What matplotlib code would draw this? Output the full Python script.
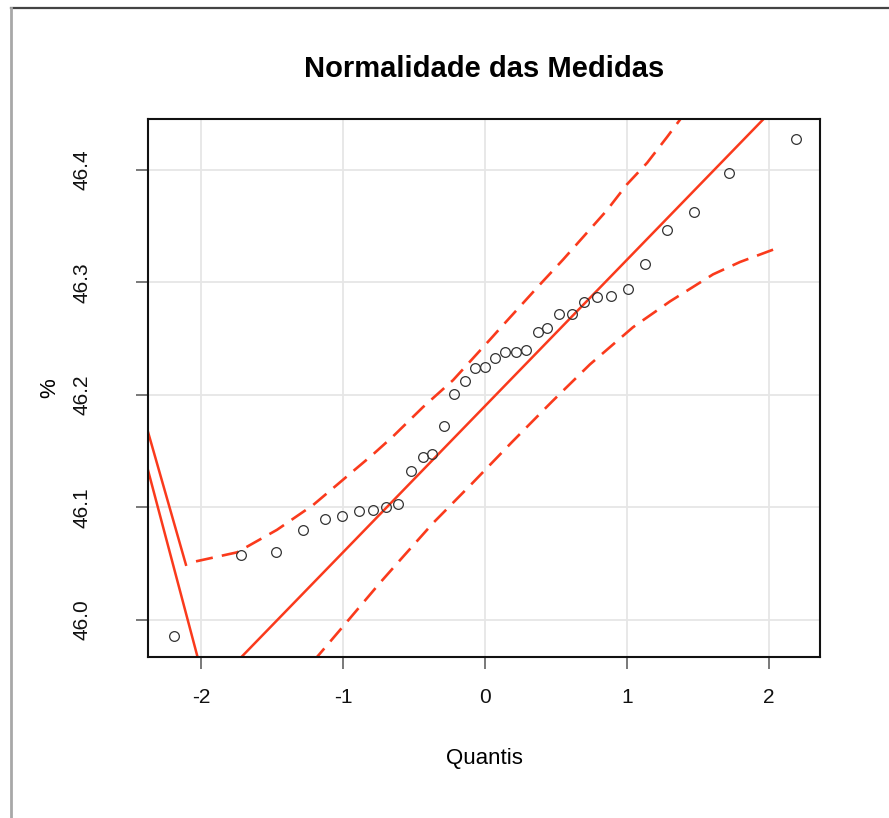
import matplotlib
matplotlib.use('Agg')
import matplotlib.pyplot as plt
from matplotlib.lines import Line2D

plt.rcParams['font.family'] = ['Liberation Sans', 'DejaVu Sans']

# theoretical quantiles vs measured values
quantis = [-2.19, -1.72, -1.47, -1.28, -1.13, -1.01, -0.89, -0.79, -0.70, -0.61,
           -0.52, -0.44, -0.37, -0.29, -0.22, -0.14, -0.07, 0.00, 0.07, 0.14,
           0.22, 0.29, 0.37, 0.44, 0.52, 0.61, 0.70, 0.79, 0.89, 1.01,
           1.13, 1.28, 1.47, 1.72, 2.19]
medidas = [45.986, 46.058, 46.060, 46.080, 46.090, 46.092, 46.097, 46.098, 46.100, 46.103,
           46.132, 46.145, 46.147, 46.172, 46.201, 46.212, 46.224, 46.225, 46.233, 46.238,
           46.238, 46.240, 46.256, 46.259, 46.272, 46.272, 46.282, 46.287, 46.288, 46.294,
           46.316, 46.346, 46.362, 46.397, 46.427]

# reference line
intercepto = 46.19
inclinacao = 0.130

# envelope
sup_x = [-2.035, -1.746, -1.465, -1.211, -1.042, -0.930, -0.789, -0.648, -0.437, -0.225,
         0.035, 0.106, 0.387, 0.549, 0.718, 0.859, 1.000, 1.141, 1.282, 1.40]
sup_y = [46.052, 46.060, 46.080, 46.102, 46.120, 46.132, 46.147, 46.163, 46.189, 46.213,
         46.249, 46.259, 46.298, 46.320, 46.344, 46.364, 46.387, 46.406, 46.429, 46.449]
inf_x = [-1.21, -1.021, -0.880, -0.739, -0.599, -0.366, -0.085, 0.190, 0.472, 0.739,
         1.042, 1.303, 1.606, 1.796, 2.03]
inf_y = [45.963, 45.991, 46.012, 46.033, 46.053, 46.086, 46.122, 46.158, 46.194, 46.227,
         46.260, 46.283, 46.307, 46.318, 46.329]

# stray solid segments at the left edge
seg_a_x = [-2.373, -2.106]
seg_a_y = [46.167, 46.049]
seg_b_x = [-2.373, -2.02]
seg_b_y = [46.133, 45.965]

vermelho = '#fa3a1c'

fig = plt.figure(figsize=(8.89, 8.18), dpi=100)
ax = fig.add_axes([0.1665, 0.1968, 0.9224 - 0.1665, 0.8545 - 0.1968])

ax.set_xlim(-2.373, 2.359)
ax.set_ylim(45.967, 46.445)
ax.set_xticks([-2, -1, 0, 1, 2])
ax.set_yticks([46.0, 46.1, 46.2, 46.3, 46.4])
ax.set_xticklabels(['-2', '-1', '0', '1', '2'])
ax.set_yticklabels(['46.0', '46.1', '46.2', '46.3', '46.4'], rotation=90, va='center')
ax.grid(True, color='#e6e6e6', lw=1.3)
ax.set_axisbelow(True)

ax.axline((0, intercepto), slope=inclinacao, color=vermelho, lw=1.8, zorder=2)
ax.plot(sup_x, sup_y, color=vermelho, lw=1.9, dashes=(6.5, 3.5), zorder=2)
ax.plot(inf_x, inf_y, color=vermelho, lw=1.9, dashes=(6.5, 3.5), zorder=2)
ax.plot(seg_a_x, seg_a_y, color=vermelho, lw=1.8, zorder=2)
ax.plot(seg_b_x, seg_b_y, color=vermelho, lw=1.8, zorder=2)

ax.plot(quantis, medidas, 'o', ms=7, mfc='none', mec='#333333', mew=0.9, zorder=3)

for s in ax.spines.values():
    s.set_linewidth(1.5)
    s.set_color('#111111')
ax.tick_params(direction='out', length=8.5, width=1.1, color='#555555',
               labelsize=15, labelcolor='#111111')
ax.tick_params(axis='x', pad=14)
ax.tick_params(axis='y', pad=32)

ax.set_xlabel('Quantis', fontsize=16, labelpad=29)
ax.set_ylabel('%', fontsize=16, labelpad=9)
ax.set_title('Normalidade das Medidas', fontsize=21, fontweight='bold', pad=30)

# window border (top and left)
fig.add_artist(Line2D([11 / 889, 1.0], [1 - 8 / 818, 1 - 8 / 818],
                      transform=fig.transFigure, color='#444444', lw=1.6))
fig.add_artist(Line2D([11 / 889, 11 / 889], [0, 1 - 8 / 818],
                      transform=fig.transFigure, color='#a8a8a8', lw=2.0))

fig.savefig('out.png', dpi=100)
